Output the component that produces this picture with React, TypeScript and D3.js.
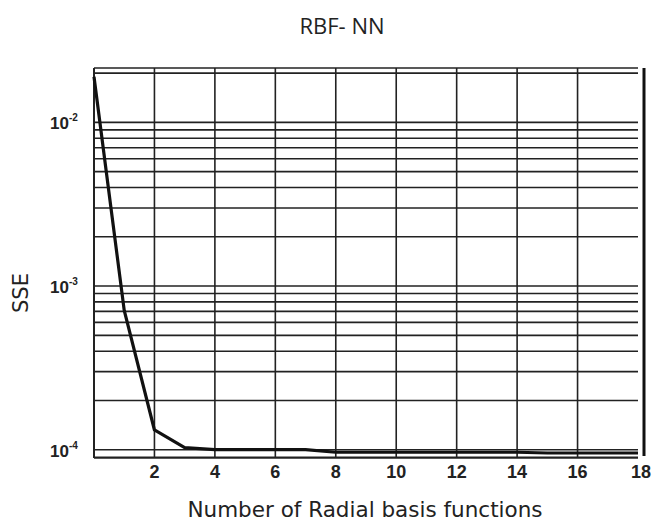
import React from "react";
import * as d3 from "d3";

const xValues = [0, 1, 2, 3, 4, 5, 6, 7, 8, 9, 10, 11, 12, 13, 14, 15, 16, 17, 18];
const sseValues = [
  0.019, 0.00071, 0.000132, 0.000103, 0.0001, 0.0001, 0.0001, 0.0001, 0.0000965,
  0.0000965, 0.0000965, 0.0000965, 0.0000965, 0.0000965, 0.0000965, 0.0000955,
  0.0000955, 0.0000955, 0.0000955,
];
const xTicks = [2, 4, 6, 8, 10, 12, 14, 16, 18];
const yDecades = [-2, -3, -4];
const title = "RBF- NN";
const xLabel = "Number of Radial basis functions";
const yLabel = "SSE";

export default function App() {
  const W = 653;
  const H = 530;
  const left = 94;
  const right = 638;
  const top = 68;
  const bottom = 458;
  const x = d3.scaleLinear().domain([0, 18]).range([left, right]);
  const y = d3.scaleLog().domain([8.9e-5, 2.15e-2]).range([bottom, top]);

  const gridVals: number[] = [];
  for (let e = -5; e <= -1; e++) {
    for (let m = 1; m <= 9; m++) {
      const v = m * Math.pow(10, e);
      if (v > 8.9e-5 && v < 2.15e-2) gridVals.push(v);
    }
  }

  const line = d3
    .line<number>()
    .x((_, i) => x(xValues[i]))
    .y((d) => y(d));

  return (
    <svg width={W} height={H} style={{ position: "absolute", left: 0, top: 0, background: "#fff" }}>
      <rect x={0} y={0} width={W} height={H} fill="#fff" />
      <text x={342} y={34} textAnchor="middle" fontFamily="Open Sans, sans-serif" fontSize={22} fill="#222">
        {title}
      </text>
      {gridVals.map((v, i) => (
        <line key={"h" + i} x1={left} x2={right} y1={y(v)} y2={y(v)} stroke="#222" strokeWidth={1.6} />
      ))}
      <line x1={left} x2={right} y1={top} y2={top} stroke="#222" strokeWidth={1.6} />
      <line x1={left} x2={right} y1={bottom} y2={bottom} stroke="#222" strokeWidth={1.6} />
      {xTicks.filter((t) => t < 18).map((t) => (
        <line key={"v" + t} x1={x(t)} x2={x(t)} y1={top} y2={bottom} stroke="#222" strokeWidth={1.6} />
      ))}
      <line x1={left} x2={left} y1={top} y2={bottom} stroke="#222" strokeWidth={2} />
      <line x1={644} x2={644} y1={top} y2={bottom - 2} stroke="#111" strokeWidth={3} />
      <path d={line(sseValues) || ""} fill="none" stroke="#111" strokeWidth={3.2} strokeLinejoin="round" />
      {xTicks.map((t) => (
        <text key={"xt" + t} x={x(t) + (t === 18 ? 3 : 0)} y={478} textAnchor="middle" fontFamily="Liberation Sans, Arial, sans-serif" fontWeight="bold" fontSize={18} fill="#222">
          {t}
        </text>
      ))}
      {yDecades.map((e) => (
        <text key={"yt" + e} x={50} y={y(Math.pow(10, e)) + 7} fontFamily="Liberation Sans, Arial, sans-serif" fontWeight="bold" fontSize={17} fill="#222">
          10
          <tspan dy={-8} fontSize={10}>{"-" + Math.abs(e)}</tspan>
        </text>
      ))}
      <text transform="translate(28,293) rotate(-90)" textAnchor="middle" fontFamily="DejaVu Sans, sans-serif" fontSize={21} fill="#222">
        {yLabel}
      </text>
      <text x={365} y={517} textAnchor="middle" fontFamily="DejaVu Sans, sans-serif" fontSize={21.5} fill="#222">
        {xLabel}
      </text>
    </svg>
  );
}
